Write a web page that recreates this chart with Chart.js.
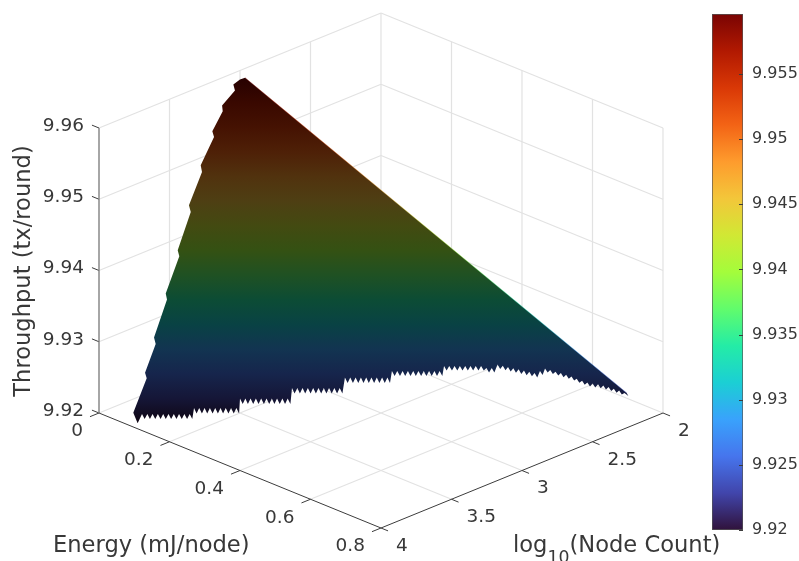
<!DOCTYPE html>
<html>
<head>
<meta charset="utf-8">
<style>
html,body{margin:0;padding:0;background:#fff;overflow:hidden}
#wrap{position:relative;width:799px;height:561px}
canvas{position:absolute;top:0}
#main{left:0}
#bar{left:700px}
</style>
<script src="https://cdn.jsdelivr.net/npm/chart.js@4"></script>
</head>
<body>
<div id="wrap">
<canvas id="main" width="799" height="561"></canvas>
<canvas id="bar" width="99" height="561"></canvas>
</div>
<script>
// ---- axis ticks ----
const energyTicks = [0, 0.2, 0.4, 0.6, 0.8];
const nodeTicks = [2, 2.5, 3, 3.5, 4];
const throughputTicks = [9.92, 9.93, 9.94, 9.95, 9.96];
const colorbarTicks = [9.92, 9.925, 9.93, 9.935, 9.94, 9.945, 9.95, 9.955];
const colorbarRange = [9.92, 9.9596];
const colormap = ['#30123b','#4145ab','#4675ed','#39a2fc','#1bcfd4','#24eca6','#61fc6c','#a4fc3b','#d1e834','#f3c63a','#fe9b2d','#f36315','#d93806','#b11901','#7a0403'];

// ---- outline of the surface ----
const edgeEnergy = [
.0681,.0904,
.0812,.0882,.0888,.0957,.0963,.1032,.1038,.1107,.1113,.1182,.1188,.1258,.1263,.1333,.1339,.1408,.1414,.1483,.1489,.1558,
.1512,.1584,.1587,.1660,.1662,.1735,.1738,.1810,.1813,.1885,.1888,.1960,.1963,.2036,.2038,.2111,.2113,.2186,
.2104,.2177,.2180,.2252,.2255,.2327,.2330,.2402,.2405,.2478,.2480,.2553,.2556,.2628,.2631,.2703,.2706,.2778,.2781,.2854,
.2775,.2848,.2851,.2923,.2926,.2998,.3001,.3074,.3076,.3149,.3151,.3224,.3226,.3299,.3302,.3374,.3377,.3450,.3452,.3525,
.3461,.3533,.3536,.3608,.3611,.3684,.3686,.3759,.3761,.3834,.3837,.3909,.3912,.3984,.3987,.4059,.4062,.4135,
.4086,.4155,.4161,.4231,.4237,.4306,.4312,.4381,.4387,.4456,.4462,.4531,.4537,.4607,.4612,.4682,.4688,.4757,.4763,.4832,
.4792,.4858,.4867,.4933,.4943,.5009,.5018,.5084,.5093,.5159,.5168,.5234,.5243,.5309,.5319,.5384,.5407,.5473,.5482,.5548,
.5542,.5609,.5624,.5691,.5707,.5774,.5790,.5857,.5873,.5940,.5956,.6023,.6039,.6106,.6121,.6188,
.6186,.6248,.6241,.6304,.6325,.6388,.6411,.6473,.6495,.6558,.6580,.6643,.6668,.6731,.6756,.6819,.6845,.6907,.6930,.6993,.7011,.7074,.7093,.7156,.7175,.7238,.7260,.7323,.7346,.7409,.7432,.7495,.7523,
.7596,.7554,
.0143,.0083,.0019,.0081,.0000,.0038,.0019,.0079,.0069,.0130,.0156,.0223,.0281,.0342,.0385,.0441,.0497,.0564,.0594,.0653
];
const edgeNodes = [
3.927,3.952,
3.898,3.897,3.879,3.878,3.861,3.859,3.842,3.840,3.823,3.822,3.804,3.803,3.785,3.784,3.767,3.765,3.748,3.746,3.729,3.728,
3.704,3.704,3.686,3.685,3.667,3.666,3.648,3.647,3.629,3.628,3.610,3.610,3.592,3.591,3.573,3.572,3.554,3.553,
3.526,3.525,3.507,3.507,3.489,3.488,3.470,3.469,3.451,3.450,3.432,3.431,3.413,3.413,3.395,3.394,3.376,3.375,3.357,3.356,
3.325,3.325,3.306,3.306,3.288,3.287,3.269,3.268,3.250,3.249,3.231,3.230,3.212,3.212,3.194,3.193,3.175,3.174,3.156,3.155,
3.121,3.120,3.102,3.101,3.083,3.082,3.064,3.064,3.045,3.045,3.027,3.026,3.008,3.007,2.989,2.988,2.970,2.970,
2.944,2.942,2.925,2.923,2.906,2.905,2.887,2.886,2.868,2.867,2.850,2.848,2.831,2.830,2.812,2.811,2.793,2.792,2.775,2.773,
2.751,2.749,2.733,2.730,2.714,2.711,2.695,2.693,2.676,2.674,2.657,2.655,2.639,2.636,2.620,2.617,2.604,2.602,2.585,2.583,
2.559,2.557,2.542,2.540,2.526,2.524,2.509,2.507,2.492,2.490,2.475,2.473,2.458,2.456,2.441,2.439,
2.419,2.416,2.397,2.394,2.381,2.378,2.365,2.361,2.348,2.345,2.332,2.329,2.316,2.313,2.301,2.298,2.285,2.282,2.269,2.266,2.252,2.249,2.234,2.231,2.217,2.214,2.201,2.198,2.185,2.182,2.169,2.166,2.154,
2.145,2.146,
3.000,3.021,3.052,3.056,3.127,3.132,3.201,3.204,3.296,3.302,3.401,3.405,3.512,3.516,3.623,3.628,3.734,3.739,3.822,3.825
];
const edgeThroughput = [
9.92083,9.92000,
9.92069,9.92011,9.92069,9.92011,9.92069,9.92011,9.92069,9.92011,9.92069,9.92011,9.92069,9.92011,9.92069,9.92011,9.92069,9.92011,9.92069,9.92011,9.92069,9.92011,
9.92137,9.92074,9.92137,9.92074,9.92137,9.92074,9.92137,9.92074,9.92137,9.92074,9.92137,9.92074,9.92137,9.92074,9.92137,9.92074,9.92137,9.92074,
9.92246,9.92183,9.92246,9.92183,9.92246,9.92183,9.92246,9.92183,9.92246,9.92183,9.92246,9.92183,9.92246,9.92183,9.92246,9.92183,9.92246,9.92183,9.92246,9.92183,
9.92367,9.92303,9.92367,9.92303,9.92367,9.92303,9.92367,9.92303,9.92367,9.92303,9.92367,9.92303,9.92367,9.92303,9.92367,9.92303,9.92367,9.92303,9.92367,9.92303,
9.92487,9.92424,9.92487,9.92424,9.92487,9.92424,9.92487,9.92424,9.92487,9.92424,9.92487,9.92424,9.92487,9.92424,9.92487,9.92424,9.92487,9.92424,
9.92561,9.92504,9.92561,9.92504,9.92561,9.92504,9.92561,9.92504,9.92561,9.92504,9.92561,9.92504,9.92561,9.92504,9.92561,9.92504,9.92561,9.92504,9.92561,9.92504,
9.92619,9.92567,9.92619,9.92567,9.92619,9.92567,9.92619,9.92567,9.92619,9.92567,9.92619,9.92567,9.92619,9.92567,9.92619,9.92567,9.92596,9.92544,9.92596,9.92544,
9.92636,9.92583,9.92622,9.92569,9.92608,9.92555,9.92594,9.92541,9.92581,9.92528,9.92567,9.92514,9.92553,9.92500,9.92539,9.92486,
9.92561,9.92515,9.92590,9.92544,9.92573,9.92527,9.92554,9.92508,9.92537,9.92491,9.92520,9.92474,9.92497,9.92451,9.92473,9.92427,9.92449,9.92403,9.92431,9.92385,9.92419,9.92373,9.92408,9.92362,9.92395,9.92349,9.92377,9.92331,9.92358,9.92312,9.92338,9.92292,9.92309,
9.92275,9.92309,
9.95927,9.95908,9.95850,9.95782,9.95610,9.95544,9.95312,9.95246,9.94922,9.94845,9.94464,9.94387,9.93948,9.93879,9.93452,9.93383,9.92947,9.92871,9.92542,9.92478
];

// ---- oblique view of the 3-D box ----
const eMax = 0.8, nMax = 4, nMin = 2, tMin = 9.92, tMax = 9.96;
function project(e, n, t) {
  const a = e / eMax, b = (nMax - n) / (nMax - nMin);
  return { x: 99 + 282 * (a + b), y: 413 + 115 * (a - b) - 285 * (t - tMin) / (tMax - tMin) };
}
const surfacePoints = edgeEnergy.map((e, i) => project(e, edgeNodes[i], edgeThroughput[i]));
const topIdx = edgeThroughput.indexOf(Math.max(...edgeThroughput));
const lowIdx = edgeThroughput.indexOf(Math.min(...edgeThroughput));
const ridgeEnd = topIdx - 1;

function rgb(hex, f) {
  const v = parseInt(hex.slice(1), 16);
  return [(v >> 16) & 255, (v >> 8) & 255, v & 255].map(c => Math.round(c * f));
}
function surfaceGradient(chart, f, alpha) {
  const ys = chart.scales.y;
  const y0 = ys ? ys.getPixelForValue(surfacePoints[lowIdx].y) : NaN;
  const y1 = ys ? ys.getPixelForValue(surfacePoints[topIdx].y) : NaN;
  if (!isFinite(y0) || !isFinite(y1)) return 'rgba(0,0,0,0)';
  const g = chart.ctx.createLinearGradient(0, y0, 0, y1);
  colormap.forEach((c, i) => g.addColorStop(i / (colormap.length - 1), 'rgba(' + rgb(c, f).join(',') + ',' + alpha + ')'));
  return g;
}

const gridColor = '#e2e2e2', gridWidth = 1.2;
function seg(p, q, color, width) {
  return { type: 'scatter', data: [p, q], showLine: true, pointRadius: 0, borderColor: color, borderWidth: width, fill: false };
}
const datasets = [];
// surface on top
datasets.push({
  type: 'scatter', data: surfacePoints, showLine: true, pointRadius: 0, borderWidth: 0, tension: 0,
  fill: 'shape', backgroundColor: c => surfaceGradient(c.chart, 0.32, 1), borderColor: 'rgba(0,0,0,0)'
});
datasets.unshift({
  type: 'scatter', data: [surfacePoints[topIdx], surfacePoints[ridgeEnd]], showLine: true, pointRadius: 0, borderWidth: 1,
  borderColor: c => surfaceGradient(c.chart, 1, 0.4), fill: false
});
// axes
const axisDark = '#3c3c3c';
datasets.push(seg(project(0, nMax, tMin), project(eMax, nMax, tMin), axisDark, 1));
datasets.push(seg(project(eMax, nMax, tMin), project(eMax, nMin, tMin), axisDark, 1));
datasets.push(seg(project(0, nMax, tMin), project(0, nMax, tMax), '#808080', 1.4));
energyTicks.forEach(e => datasets.push(seg(project(e, nMax, tMin), project(e, nMax + 0.064, tMin), axisDark, 1)));
nodeTicks.forEach(n => datasets.push(seg(project(eMax, n, tMin), project(eMax + 0.02, n, tMin), axisDark, 1)));
throughputTicks.forEach(t => datasets.push(seg(project(0, nMax, t), project(-0.02, nMax, t), axisDark, 1)));
// grid on floor and two walls
energyTicks.forEach(e => {
  if (e > 0 && e < eMax) datasets.push(seg(project(e, nMax, tMin), project(e, nMin, tMin), gridColor, gridWidth));
  if (e < eMax) datasets.push(seg(project(e, nMin, tMin), project(e, nMin, tMax), gridColor, gridWidth));
});
datasets.push(seg(project(eMax, nMin, tMin), project(eMax, nMin, tMax), gridColor, gridWidth));
nodeTicks.forEach(n => {
  if (n > nMin && n < nMax) datasets.push(seg(project(0, n, tMin), project(eMax, n, tMin), gridColor, gridWidth));
  if (n > nMin) datasets.push(seg(project(0, n, tMin), project(0, n, tMax), n === nMax ? 'rgba(0,0,0,0)' : gridColor, gridWidth));
});
datasets.push(seg(project(0, nMax, tMin), project(0, nMin, tMin), gridColor, gridWidth));
datasets.push(seg(project(eMax, nMin, tMin), project(0, nMin, tMin), gridColor, gridWidth));
throughputTicks.forEach(t => {
  if (t > tMin) {
    datasets.push(seg(project(0, nMax, t), project(0, nMin, t), gridColor, gridWidth));
    datasets.push(seg(project(eMax, nMin, t), project(0, nMin, t), gridColor, gridWidth));
  }
});

const textColor = '#383838';
const tickFont = '18.5px "DejaVu Sans"', titleFont = '22.6px "DejaVu Sans"', subFont = '17.3px "DejaVu Sans"';
const labelsPlugin = {
  id: 'boxLabels',
  afterDraw(chart) {
    const ctx = chart.ctx, sx = chart.scales.x, sy = chart.scales.y;
    const px = p => ({ x: sx.getPixelForValue(p.x), y: sy.getPixelForValue(p.y) });
    ctx.save();
    ctx.fillStyle = textColor;
    ctx.font = tickFont;
    ctx.textBaseline = 'middle';
    ctx.textAlign = 'right';
    throughputTicks.forEach(t => { const p = px(project(0, nMax, t)); ctx.fillText(t.toFixed(2), p.x - 15, p.y - 2); });
    energyTicks.forEach(e => { const p = px(project(e, nMax, tMin)); ctx.fillText(String(e), p.x - 16, p.y + 18.5); });
    ctx.textAlign = 'left';
    nodeTicks.forEach(n => { const p = px(project(eMax, n, tMin)); ctx.fillText(String(n), p.x + 15, p.y + 18); });
    // axis titles
    ctx.font = titleFont;
    ctx.textBaseline = 'alphabetic';
    ctx.fillText('Energy (mJ/node)', 53, 552);
    let x = 513;
    ctx.fillText('log', x, 552);
    x += ctx.measureText('log').width;
    ctx.font = subFont;
    ctx.fillText('10', x, 563);
    x += ctx.measureText('10').width;
    ctx.font = titleFont;
    ctx.fillText('(Node Count)', x, 552);
    ctx.translate(24, 271);
    ctx.rotate(-Math.PI / 2);
    ctx.textAlign = 'center';
    ctx.textBaseline = 'middle';
    ctx.fillText('Throughput (tx/round)', 0, 0);
    ctx.restore();
  }
};

new Chart(document.getElementById('main'), {
  type: 'scatter',
  data: { datasets },
  plugins: [labelsPlugin],
  options: {
    responsive: false, animation: false, devicePixelRatio: 1,
    layout: { padding: 0 },
    plugins: { legend: { display: false }, tooltip: { enabled: false }, title: { display: false } },
    scales: {
      x: { type: 'linear', display: false, min: 0, max: 799 },
      y: { type: 'linear', display: false, min: 0, max: 561, reverse: true }
    }
  }
});

// ---- colour bar ----
const barTicksPlugin = {
  id: 'barTicks',
  afterDatasetsDraw(chart) {
    const ctx = chart.ctx, a = chart.chartArea, s = chart.scales.y;
    ctx.save();
    ctx.strokeStyle = '#3c3c3c';
    ctx.lineWidth = 1;
    colorbarTicks.forEach(t => {
      const y = Math.round(s.getPixelForValue(t)) + 0.5;
      ctx.beginPath(); ctx.moveTo(a.right - 4, y); ctx.lineTo(a.right, y); ctx.stroke();
    });
    ctx.restore();
  }
};
new Chart(document.getElementById('bar'), {
  type: 'bar',
  data: {
    labels: ['Throughput'],
    datasets: [{
      data: [colorbarRange],
      barPercentage: 1, categoryPercentage: 1, borderSkipped: false,
      borderWidth: 1, borderColor: '#555555',
      backgroundColor: c => {
        const a = c.chart.chartArea;
        if (!a) return colormap[0];
        const g = c.chart.ctx.createLinearGradient(0, a.bottom, 0, a.top);
        colormap.forEach((h, i) => g.addColorStop(i / (colormap.length - 1), h));
        return g;
      }
    }]
  },
  plugins: [barTicksPlugin],
  options: {
    responsive: false, animation: false, devicePixelRatio: 1,
    layout: { padding: { left: 12, top: 14, bottom: 31, right: 0 } },
    plugins: { legend: { display: false }, tooltip: { enabled: false } },
    scales: {
      x: { display: false },
      y: {
        position: 'right',
        min: colorbarRange[0], max: colorbarRange[1],
        afterFit(s) { s.width = 56; },
        afterBuildTicks(s) { s.ticks = colorbarTicks.map(v => ({ value: v })); },
        ticks: { color: textColor, font: { family: 'DejaVu Sans', size: 16 }, padding: 1, callback: v => String(v), autoSkip: false, maxRotation: 0 },
        grid: { display: false },
        border: { display: false }
      }
    }
  }
});
</script>
</body>
</html>
